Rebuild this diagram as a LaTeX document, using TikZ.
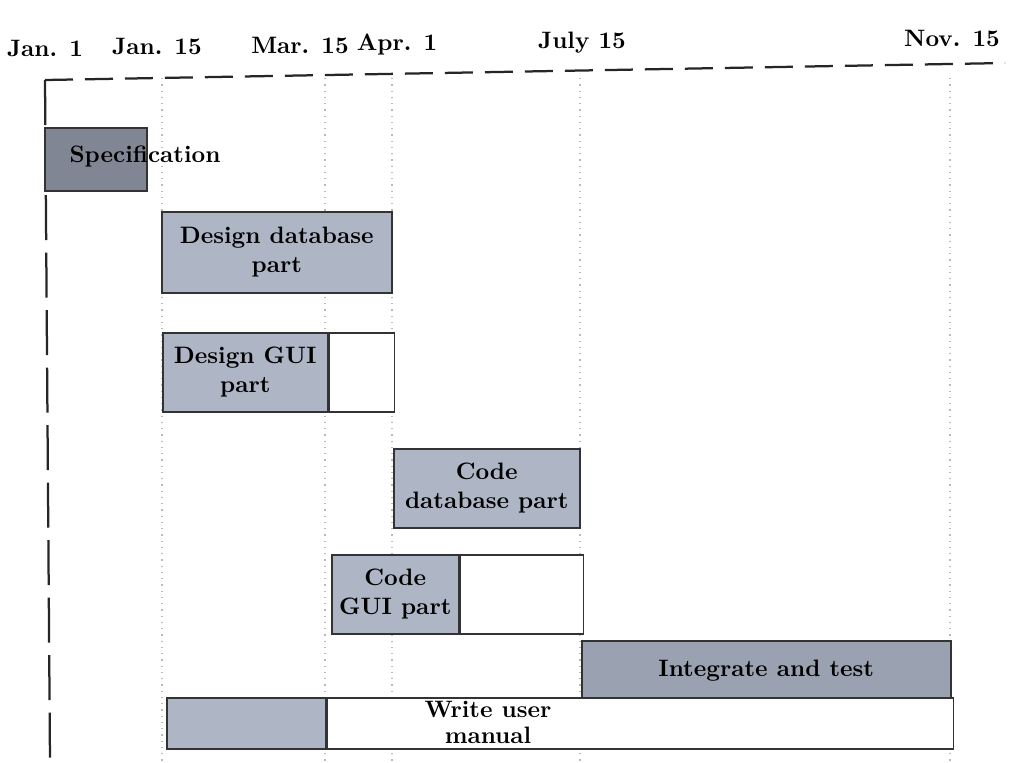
\documentclass[tikz,border=0pt]{standalone}
\usetikzlibrary{positioning}
\definecolor{barblue}{RGB}{174,182,198}
\definecolor{barmid}{RGB}{154,161,176}
\definecolor{bardark}{RGB}{128,134,148}

\begin{document}
\begin{tikzpicture}[x=0.4pt,y=-0.4pt,font=\fontsize{9.5}{11.6}\selectfont\bfseries,
        bar/.style={draw=black!80,line width=0.6pt,fill=barblue,inner sep=0pt,
          align=center,anchor=north west},
        blank/.style={draw=black!80,line width=0.6pt,fill=white,inner sep=0pt},
        grid/.style={gray!55,dotted,line width=0.5pt}]
        \tikzstyle{frame}=[black!85,line width=0.9pt]
  \useasboundingbox (0,0) rectangle (1010,762);

  % dates
  \node (jan1) at (45,48) {Jan. 1};
  \node (jan15) at (157,46) {Jan. 15};
  \node (mar15) at (300,45) {Mar. 15};
  \node (apr1) at (397,45) {Apr. 1};
  \node (jul15) at (582,43) {July 15};
  \node (nov15) at (952,38) {Nov. 15};

  \foreach \x in {162,325,392,580,950}
    \draw[grid] (\x,78) -- (\x,762);

  \coordinate (corner) at (45,80);
  \coordinate (topend) at (1005,63);
  \coordinate (botend) at (50,762);
  \draw[frame,dash pattern=on 11.2pt off 4.8pt] (corner) -- (topend);
  \draw[frame,dash pattern=on 18pt off 5pt] (corner) -- (botend);

  % tasks
  \node[bar,fill=bardark,minimum width=40.8pt,minimum height=25.2pt] (spec) at (44,127) {};
  \node (speclabel) at (145,156) {Specification};

  \node[bar,minimum width=92pt,minimum height=32.4pt] (dbdesign) at (161,211)
    {Design database\\part};

  \node[bar,minimum width=66pt,minimum height=31.6pt] (guidesign) at (162,332)
    {Design GUI\\part};
  \node[blank,minimum width=26pt,minimum height=31.6pt,right=0pt of guidesign] (guidesignslack) {};

  \node[bar,minimum width=74.4pt,minimum height=31.6pt] (dbcode) at (393,448)
    {Code\\database part};

  \node[bar,minimum width=50.8pt,minimum height=31.6pt] (guicode) at (331,554)
    {Code\\GUI part};
  \node[blank,minimum width=49.2pt,minimum height=31.6pt,right=0pt of guicode] (guicodeslack) {};

  \node[bar,fill=barmid,minimum width=147.6pt,minimum height=24pt] (test) at (581,640)
    {Integrate and test};

  \node[bar,minimum width=63.6pt,minimum height=20.4pt] (manual) at (166,697) {};
  \node[blank,minimum width=250.4pt,minimum height=20.4pt,right=0pt of manual] (manualslack) {};
  \node[align=center,font=\fontsize{9.5}{10.4}\selectfont\bfseries] (manuallabel) at (488,722)
    {Write user\\manual};

\end{tikzpicture}
\end{document}
